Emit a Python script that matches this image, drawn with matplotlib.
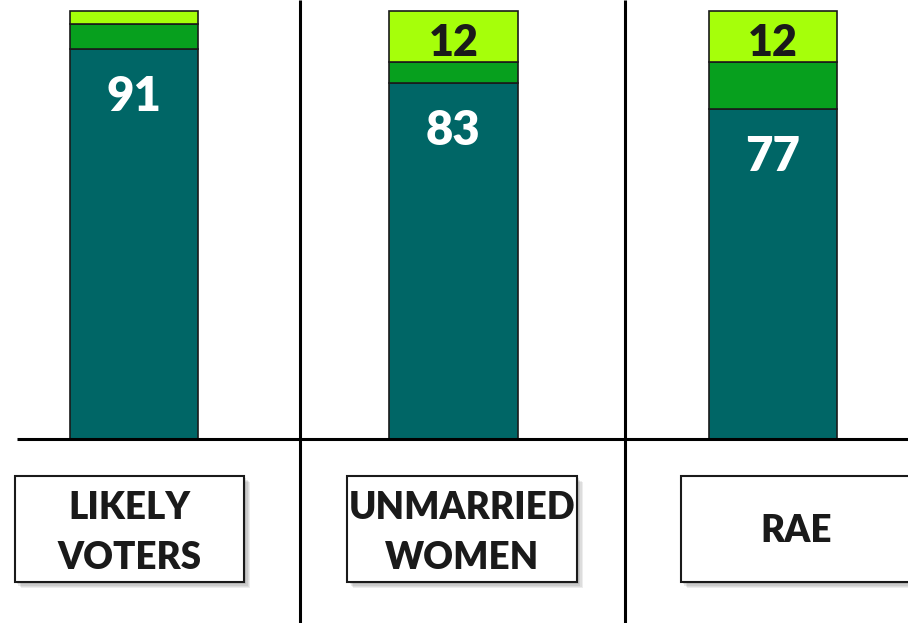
import matplotlib
matplotlib.use("Agg")
import matplotlib.pyplot as plt
from matplotlib.patches import Rectangle

plt.rcParams['font.family'] = ['Lato', 'DejaVu Sans']

# data
categories = ['LIKELY\nVOTERS', 'UNMARRIED\nWOMEN', 'RAE']
bottom_vals = [91, 83, 77]
middle_vals = [6, 5, 11]
top_vals = [3, 12, 12]
top_labels = [None, 12, 12]

teal = '#006666'
green = '#07A01E'
lime = '#A6FF0A'
edge = '#1a1a1a'

W, H = 908, 623
fig = plt.figure(figsize=(W / 100, H / 100), dpi=100)

# bar axes: baseline at y=438.7 px, 100 units = 428 px, bar spacing 319.5 px
base_px = 438.7
px_per_unit = 4.28
spacing = 319.5
first_center = 133.8
ax = fig.add_axes([0, (H - base_px) / H, 1, base_px / H])
ax.set_xlim(-first_center / spacing, (W - first_center) / spacing)
ax.set_ylim(0, base_px / px_per_unit)
ax.axis('off')

x = list(range(len(categories)))
bw = 128.5 / spacing
ax.bar(x, bottom_vals, width=bw, color=teal, edgecolor=edge, linewidth=1.2)
ax.bar(x, middle_vals, width=bw, bottom=bottom_vals, color=green, edgecolor=edge, linewidth=1.2)
stack2 = [b + m for b, m in zip(bottom_vals, middle_vals)]
ax.bar(x, top_vals, width=bw, bottom=stack2, color=lime, edgecolor=edge, linewidth=1.2)

for i, v in enumerate(bottom_vals):
    ax.text(i, v - 11.2, str(v), ha='center', va='center', color='white',
            fontsize=34, fontweight='heavy')
for i, v in enumerate(top_labels):
    if v is None:
        continue
    ax.text(i, stack2[i] + top_vals[i] / 2 - 1.6, str(v), ha='center', va='center',
            color=edge, fontsize=31, fontweight='heavy')

# overlay in pixel coordinates for lines and label boxes
ov = fig.add_axes([0, 0, 1, 1], zorder=5)
ov.set_xlim(0, W)
ov.set_ylim(H, 0)
ov.axis('off')
ov.patch.set_alpha(0)

ov.plot([17, W], [base_px, base_px], color='black', lw=2.2, solid_capstyle='butt')
for xs in [300, 624.5]:
    ov.plot([xs, xs], [0, H], color='black', lw=2.2, solid_capstyle='butt')

boxes = [(14.7, 476, 229.3, 106), (347.3, 476, 229.4, 106), (680.7, 476, 240, 106)]
text_centers = [(129.5, 533), (462, 533), (795.8, 531)]
for (bx, by, bwid, bh), (tx, ty), name in zip(boxes, text_centers, categories):
    for k, a in enumerate([0.10, 0.10, 0.12, 0.15]):
        off = 6 - k * 1.2
        ov.add_patch(Rectangle((bx + off, by + off), bwid, bh, facecolor='#555555',
                               edgecolor='none', alpha=a))
    ov.add_patch(Rectangle((bx, by), bwid, bh, facecolor='white', edgecolor=edge, lw=1.5))
    ov.text(tx, ty, name, ha='center', va='center', fontsize=26.5, fontweight='heavy',
            color=edge, linespacing=1.58)

fig.savefig('out.png', dpi=100)
